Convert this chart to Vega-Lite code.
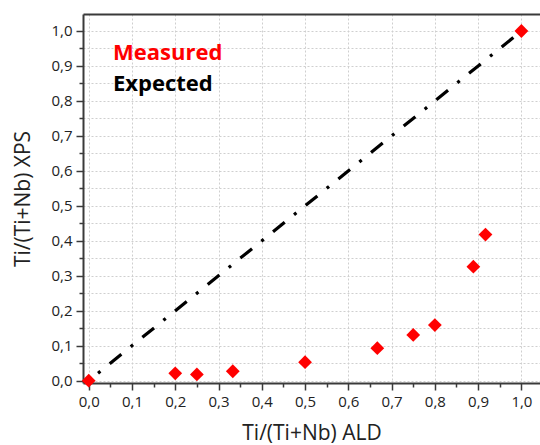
{
  "$schema": "https://vega.github.io/schema/vega-lite/v6.json",
  "autosize": "none",
  "width": 457,
  "height": 369,
  "padding": {"left": 83, "top": 14, "right": 0, "bottom": 62},
  "background": "white",
  "datasets": {
    "measured": [
      {"ald": 0.0, "xps": 0.0, "series": "Measured"},
      {"ald": 0.2, "xps": 0.021, "series": "Measured"},
      {"ald": 0.25, "xps": 0.018, "series": "Measured"},
      {"ald": 0.333, "xps": 0.027, "series": "Measured"},
      {"ald": 0.5, "xps": 0.053, "series": "Measured"},
      {"ald": 0.667, "xps": 0.093, "series": "Measured"},
      {"ald": 0.75, "xps": 0.131, "series": "Measured"},
      {"ald": 0.8, "xps": 0.159, "series": "Measured"},
      {"ald": 0.889, "xps": 0.326, "series": "Measured"},
      {"ald": 0.917, "xps": 0.418, "series": "Measured"},
      {"ald": 1.0, "xps": 1.0, "series": "Measured"}
    ],
    "expected": [
      {"ald": 0.0, "xps": 0.0, "series": "Expected"},
      {"ald": 1.0, "xps": 1.0, "series": "Expected"}
    ]
  },
  "config": {
    "view": {"stroke": null},
    "font": "Open Sans"
  },
  "layer": [
    {
      "data": {"name": "expected"},
      "mark": {
        "type": "line",
        "color": "#000000",
        "strokeWidth": 3.2,
        "strokeDash": [15, 12, 3, 12],
        "strokeDashOffset": 15,
        "strokeCap": "butt"
      },
      "encoding": {
        "x": {
          "field": "ald",
          "type": "quantitative",
          "scale": {"domain": [-0.0132, 1.043], "nice": false, "zero": false},
          "axis": {
            "orient": "bottom",
            "title": "Ti/(Ti+Nb) ALD",
            "titleFont": "Open Sans",
            "titleFontSize": 21,
            "titleFontWeight": "normal",
            "titleColor": "#222222",
            "titleBaseline": "alphabetic",
            "titleY": 56.5,
            "values": [0, 0.05, 0.1, 0.15, 0.2, 0.25, 0.3, 0.35, 0.4, 0.45, 0.5, 0.55, 0.6, 0.65, 0.7, 0.75, 0.8, 0.85, 0.9, 0.95, 1.0],
            "labelExpr": "abs(datum.value*10 - round(datum.value*10)) < 0.001 ? replace(format(datum.value, '.1f'), '.', ',') : ''",
            "labelFont": "Open Sans",
            "labelFontSize": 15,
            "labelColor": "#222222",
            "labelOverlap": false,
            "labelBound": false,
            "labelFlush": false,
            "labelPadding": 4,
            "domainColor": "#3a3a3a",
            "domainWidth": 2,
            "tickColor": "#3a3a3a",
            "tickWidth": 1.5,
            "tickSize": {"condition": {"test": "abs(datum.value*10 - round(datum.value*10)) < 0.001", "value": 7}, "value": 4},
            "grid": true,
            "gridColor": "#cfcfcf",
            "gridDash": [2, 2],
            "gridWidth": 1,
            "gridOpacity": {"condition": {"test": "abs(datum.value*10 - round(datum.value*10)) < 0.001", "value": 1}, "value": 0}
          }
        },
        "y": {
          "field": "xps",
          "type": "quantitative",
          "scale": {"domain": [-0.0066, 1.0486], "nice": false, "zero": false},
          "axis": {
            "title": "Ti/(Ti+Nb) XPS",
            "titleFont": "Open Sans",
            "titleFontSize": 21,
            "titleFontWeight": "normal",
            "titleColor": "#222222",
            "titleBaseline": "alphabetic",
            "titleX": -54,
            "values": [0, 0.05, 0.1, 0.15, 0.2, 0.25, 0.3, 0.35, 0.4, 0.45, 0.5, 0.55, 0.6, 0.65, 0.7, 0.75, 0.8, 0.85, 0.9, 0.95, 1.0],
            "labelExpr": "abs(datum.value*10 - round(datum.value*10)) < 0.001 ? replace(format(datum.value, '.1f'), '.', ',') : ''",
            "labelFont": "Open Sans",
            "labelFontSize": 15,
            "labelColor": "#222222",
            "labelOverlap": false,
            "labelBound": false,
            "labelFlush": false,
            "labelPadding": 4,
            "domainColor": "#3a3a3a",
            "domainWidth": 2,
            "tickColor": "#3a3a3a",
            "tickWidth": 1.5,
            "tickSize": {"condition": {"test": "abs(datum.value*10 - round(datum.value*10)) < 0.001", "value": 7}, "value": 4},
            "grid": true,
            "gridColor": "#cfcfcf",
            "gridDash": [2, 2],
            "gridWidth": 1
          }
        },
        "color": {
          "field": "series",
          "type": "nominal",
          "scale": {"domain": ["Measured", "Expected"], "range": ["#ff0000", "#000000"]},
          "legend": {
            "orient": "none",
            "legendX": 8,
            "legendY": 28,
            "title": null,
            "symbolSize": 0,
            "symbolOpacity": 0,
            "symbolStrokeWidth": 0,
            "labelOffset": 0,
            "labelFont": "Open Sans",
            "labelFontSize": 22,
            "labelFontWeight": "bold",
            "labelLimit": 300,
            "rowPadding": 8.5,
            "encode": {
              "labels": {
                "update": {
                  "fill": {"signal": "datum.value === 'Measured' ? '#ff0000' : '#000000'"}
                }
              }
            }
          }
        }
      }
    },
    {
      "data": {"name": "measured"},
      "mark": {"type": "point", "shape": "diamond", "filled": true, "size": 190, "opacity": 1},
      "encoding": {
        "x": {
          "field": "ald",
          "type": "quantitative",
          "axis": {
            "orient": "top",
            "title": null,
            "labels": false,
            "ticks": false,
            "grid": false,
            "domain": true,
            "domainColor": "#3a3a3a",
            "domainWidth": 2
          }
        },
        "y": {"field": "xps", "type": "quantitative", "axis": null},
        "color": {"field": "series", "type": "nominal"}
      }
    }
  ],
  "resolve": {"axis": {"x": "independent", "y": "independent"}}
}
